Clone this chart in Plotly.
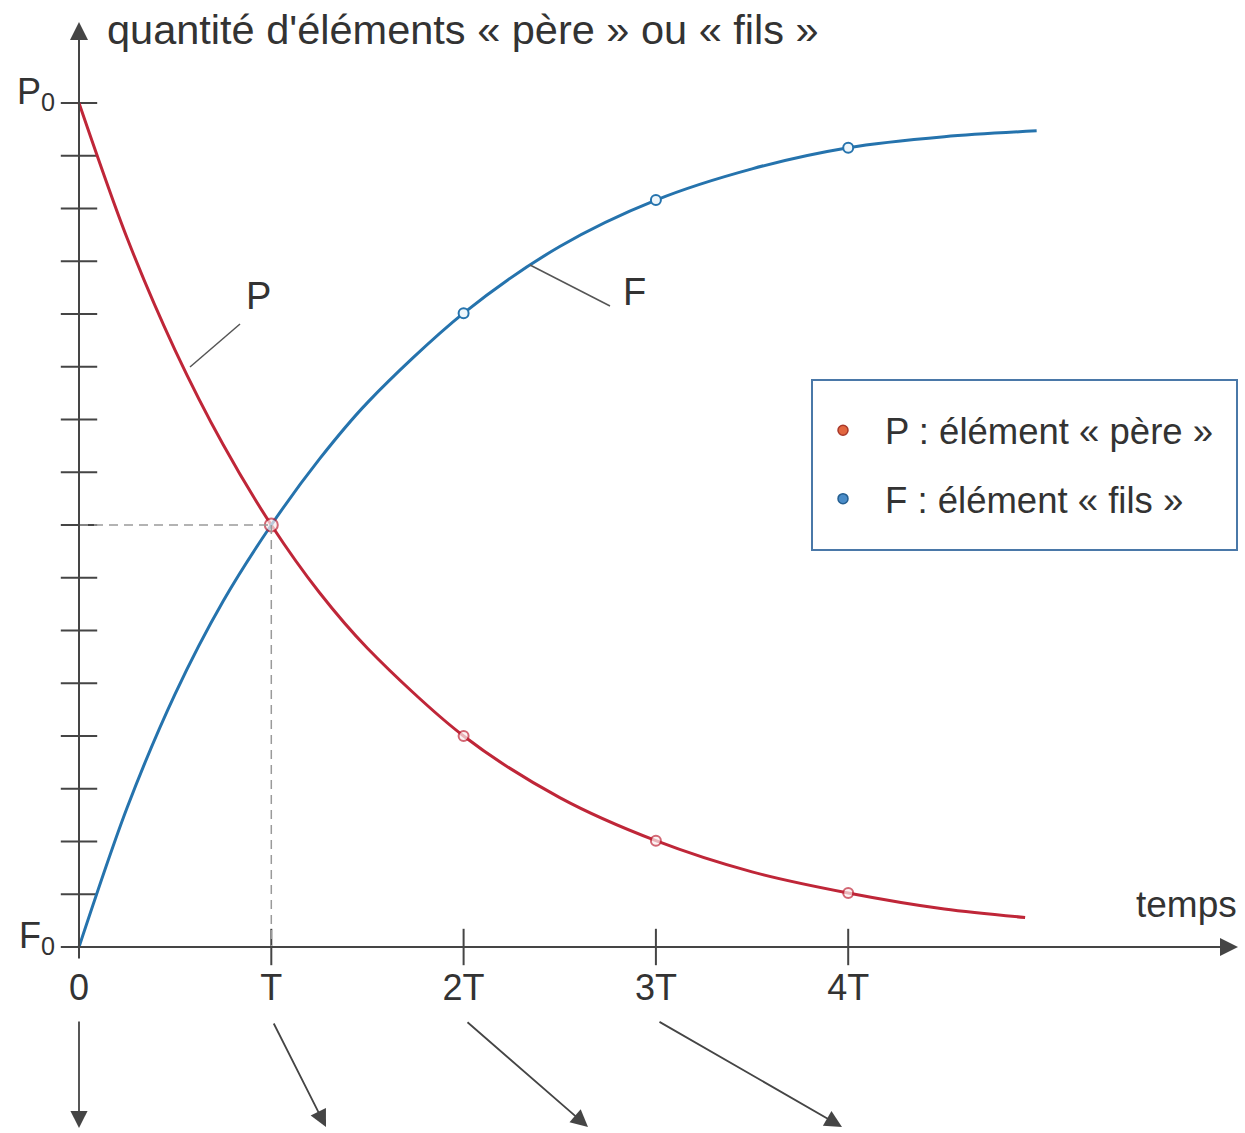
import plotly.graph_objects as go

W, H = 1245, 1133

# Time in half-lives (T) and quantities as a fraction of P0
t_pere = [0, 0.25, 0.5, 0.75, 1, 1.25, 1.5, 2, 2.5, 3, 3.5, 4, 4.5, 4.92]
q_pere = [1.0, 0.84, 0.707, 0.595, 0.50, 0.42, 0.354, 0.25, 0.177, 0.126, 0.089, 0.064, 0.045, 0.035]

t_fils = [0, 0.25, 0.5, 0.75, 1, 1.25, 1.5, 2, 2.5, 3, 3.5, 4, 4.5, 4.98]
q_fils = [0, 0.165, 0.30, 0.41, 0.50, 0.578, 0.645, 0.751, 0.83, 0.885, 0.922, 0.947, 0.96, 0.967]

# Marked points at whole half-lives
t_pts_pere = [1, 2, 3, 4]
q_pts_pere = [0.5, 0.25, 0.126, 0.064]
t_pts_fils = [2, 3, 4]
q_pts_fils = [0.751, 0.885, 0.947]

x_tick_vals = [0, 1, 2, 3, 4]
x_tick_text = ["0", "T", "2T", "3T", "4T"]
y_grad = [k / 16 for k in range(17)]
y_tick_vals = [0, 1]
y_tick_text = ["F<sub>0</sub>", "P<sub>0</sub>"]
half_life_t = 1
half_q = 0.5

# pixel frame of the drawing
OX, OY, UX, UY = 79, 947, 192.3, 844


def dx(xp):
    return (xp - OX) / UX


def dy(yp):
    return (OY - yp) / UY


FONT = "Liberation Sans, Arial, sans-serif"
AX_COL = "#454545"
RED = "#bf2638"
BLUE = "#2573ad"

fig = go.Figure()

# graduations on both axes
fig.add_trace(go.Scatter(
    x=[0] * len(y_grad), y=y_grad, mode="markers", hoverinfo="skip", showlegend=False,
    marker=dict(symbol="line-ew", size=26, line=dict(color=AX_COL, width=2))))
fig.add_trace(go.Scatter(
    x=x_tick_vals[1:], y=[0] * 4, mode="markers", hoverinfo="skip", showlegend=False,
    marker=dict(symbol="line-ns", size=26, line=dict(color=AX_COL, width=2))))

# curves
fig.add_trace(go.Scatter(
    x=t_pere, y=q_pere, mode="lines", line=dict(color=RED, width=3, shape="spline", smoothing=0.9),
    showlegend=False, hoverinfo="skip"))
fig.add_trace(go.Scatter(
    x=t_fils, y=q_fils, mode="lines", line=dict(color=BLUE, width=3, shape="spline", smoothing=0.9),
    showlegend=False, hoverinfo="skip"))

# points at T, 2T, 3T, 4T
fig.add_trace(go.Scatter(
    x=t_pts_fils, y=q_pts_fils, mode="markers", showlegend=False, hoverinfo="skip",
    marker=dict(symbol="circle", size=10, color="#eef6fb", line=dict(color=BLUE, width=2))))
fig.add_trace(go.Scatter(
    x=t_pts_pere, y=q_pts_pere, mode="markers", showlegend=False, hoverinfo="skip",
    marker=dict(symbol="circle", size=[13, 10, 10, 10], color="#fbeeee", line=dict(color=RED, width=2))))

# legend entries
fig.add_trace(go.Scatter(
    x=[None], y=[None], mode="markers", name="P : élément « père »", legendgroup="p",
    marker=dict(symbol="circle", size=10, color="#e2663f", line=dict(color="#a8382a", width=1.5))))
fig.add_trace(go.Scatter(
    x=[None], y=[None], mode="markers", name="F : élément « fils »", legendgroup="f",
    marker=dict(symbol="circle", size=10, color="#4a8cc8", line=dict(color="#245e90", width=1.5))))

shapes = [
    # half-life guides
    dict(type="line", xref="x", yref="y", x0=0, y0=half_q, x1=half_life_t, y1=half_q,
         line=dict(color="#9a9a9a", width=1.5, dash="9px,6px")),
    dict(type="line", xref="x", yref="y", x0=half_life_t, y0=half_q, x1=half_life_t, y1=0,
         line=dict(color="#9a9a9a", width=1.5, dash="9px,6px")),
    # leader lines for curve names
    dict(type="line", xref="x", yref="y", x0=dx(190), y0=dy(367), x1=dx(240), y1=dy(324),
         line=dict(color="#555", width=1.5)),
    dict(type="line", xref="x", yref="y", x0=dx(530), y0=dy(265), x1=dx(610), y1=dy(306),
         line=dict(color="#555", width=1.5)),
    # legend frame
    dict(type="rect", xref="paper", yref="paper", x0=812 / W, y0=1 - 380 / H, x1=1237 / W, y1=1 - 550 / H,
         line=dict(color="#4a78a8", width=2), fillcolor="rgba(0,0,0,0)"),
]


def arrow(x0p, y0p, x1p, y1p, width=1.8, size=1.9):
    return dict(x=dx(x1p), y=dy(y1p), ax=dx(x0p), ay=dy(y0p), xref="x", yref="y",
                axref="x", ayref="y", text="", showarrow=True, arrowhead=2,
                arrowsize=size, arrowwidth=width, arrowcolor=AX_COL, standoff=0, startstandoff=0)


annotations = [
    arrow(67, OY, 1238, OY, 2, 1.8),        # time axis
    arrow(OX, 960, OX, 22, 2, 1.8),         # quantity axis
    arrow(OX, 1020, OX, 1128),
    arrow(273, 1022, 326, 1127),
    arrow(466, 1021, 588, 1127),
    arrow(658, 1021, 842, 1127),
    dict(x=105 / W, y=1 - 29 / H, xref="paper", yref="paper", xanchor="left", yanchor="middle",
         text="quantité d'éléments « père » ou « fils »", showarrow=False,
         font=dict(family=FONT, size=41.5, color="#333")),
    dict(x=1239 / W, y=1 - 905 / H, xref="paper", yref="paper", xanchor="right", yanchor="middle",
         text="temps", showarrow=False, font=dict(family=FONT, size=37, color="#333")),
    dict(x=dx(258), y=dy(296), xref="x", yref="y", text="P", showarrow=False,
         font=dict(family=FONT, size=38, color="#333")),
    dict(x=dx(634), y=dy(292), xref="x", yref="y", text="F", showarrow=False,
         font=dict(family=FONT, size=38, color="#333")),
]

fig.update_layout(
    width=W, height=H, margin=dict(l=0, r=0, t=0, b=0),
    paper_bgcolor="white", plot_bgcolor="white",
    shapes=shapes, annotations=annotations,
    showlegend=True,
    legend=dict(x=801 / W, y=1 - 400 / H, xanchor="left", yanchor="top",
                bgcolor="rgba(0,0,0,0)", borderwidth=0, traceorder="grouped",
                tracegroupgap=18, itemwidth=74,
                font=dict(family=FONT, size=36.5, color="#333")),
    xaxis=dict(range=[dx(0), dx(W)], showgrid=False, zeroline=False, showline=False,
               tickvals=x_tick_vals, ticktext=x_tick_text, ticks="",
               anchor="free", position=1 - OY / H, ticklabelstandoff=16,
               tickfont=dict(family=FONT, size=36, color="#333")),
    yaxis=dict(range=[dy(H), dy(0)], showgrid=False, zeroline=False, showline=False,
               tickvals=y_tick_vals, ticktext=y_tick_text, ticks="",
               anchor="free", position=OX / W, ticklabelstandoff=24, ticklabelshift=-12,
               tickfont=dict(family=FONT, size=36, color="#333")),
)

fig.write_html("out.html")
